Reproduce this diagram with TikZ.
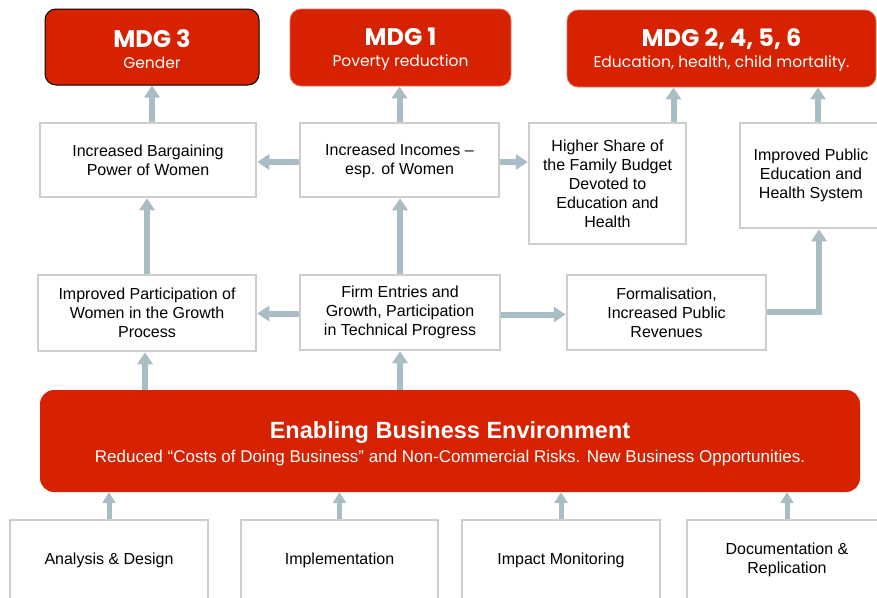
\documentclass[tikz,border=0pt]{standalone}
\usepackage{fontspec}
\setmainfont{Liberation Sans}
\newfontfamily\gothic{Poppins}
\usetikzlibrary{arrows.meta}
\definecolor{mdgred}{RGB}{214,34,0}
\definecolor{mdgline}{RGB}{232,120,100}
\definecolor{arrowc}{RGB}{168,189,197}
\definecolor{boxgray}{RGB}{206,206,206}
\begin{document}
\begin{tikzpicture}[x=1pt,y=-1pt,
  mdg/.style={fill=mdgred, draw=mdgline, line width=0.8pt, rounded corners=11pt, align=center, text=white, inner sep=0pt, font=\gothic\fontsize{15.5}{21}\selectfont},
  wbox/.style={draw=boxgray, line width=2.5pt, fill=white, align=center, inner sep=2pt, font=\fontsize{16}{19}\selectfont},
  arr/.style={draw=arrowc, line width=6pt, -{Triangle[width=15pt,length=12pt]}},
  sarr/.style={draw=arrowc, line width=5pt, -{Triangle[width=13pt,length=11pt]}}
]
\useasboundingbox (0,0) rectangle (877,597);

% MDG boxes
\node[mdg, draw=black, line width=1pt, minimum width=214pt, minimum height=76pt] (mdg3) at (152,47)
  {\rule{0pt}{21.5pt}{\bfseries\fontsize{24}{26}\selectfont MDG 3}\\Gender};
\node[mdg, minimum width=221pt, minimum height=77pt] (mdg1) at (400.5,47.5)
  {\rule{0pt}{21.5pt}{\bfseries\fontsize{24}{26}\selectfont MDG 1}\\Poverty reduction};
\node[mdg, minimum width=309pt, minimum height=77pt] (mdg2) at (721.5,48.5)
  {\rule{0pt}{21.5pt}{\bfseries\fontsize{24}{26}\selectfont MDG 2, 4, 5, 6}\\Education, health, child mortality.};

% Row 2
\node[wbox, minimum width=216pt, minimum height=74pt] (barg) at (148,160) {Increased Bargaining\\Power of Women};
\node[wbox, minimum width=199pt, minimum height=74pt] (inc) at (399.5,160) {\rule{0pt}{14pt}Increased Incomes –\\esp. of Women};
\node[wbox, minimum width=157pt, minimum height=121pt] (hs) at (607.5,183.5) {Higher Share of\\the Family Budget\\Devoted to\\Education and\\Health};
\node[wbox, minimum width=142pt, minimum height=105pt] (pub) at (811,175.5) {Improved Public\\Education and\\Health System};

% Row 3
\node[wbox, minimum width=218pt, minimum height=76pt] (part) at (147,313) {Improved Participation of\\Women in the Growth\\Process};
\node[wbox, minimum width=200pt, minimum height=75pt] (firm) at (400,312.5) {Firm Entries and\\Growth, Participation\\in Technical Progress};
\node[wbox, minimum width=199pt, minimum height=75pt] (form) at (666.5,312.5) {Formalisation,\\Increased Public\\Revenues};

% Enabling environment
\node[fill=mdgred, rounded corners=14pt, minimum width=820pt, minimum height=102pt, align=center, text=white, inner sep=0pt, font=\fontsize{17}{24}\selectfont] (env) at (450,441)
  {\rule{0pt}{22pt}{\bfseries\fontsize{23.5}{26}\selectfont Enabling Business Environment}\\Reduced “Costs of Doing Business” and Non-Commercial Risks. New Business Opportunities.};

% Bottom row
\node[wbox, minimum width=198pt, minimum height=80pt] (ana) at (109,560) {Analysis \& Design};
\node[wbox, minimum width=197pt, minimum height=80pt] (impl) at (339.5,560) {Implementation};
\node[wbox, minimum width=198pt, minimum height=80pt] (imp) at (561,560) {Impact Monitoring};
\node[wbox, minimum width=200pt, minimum height=80pt] (doc) at (787,560) {Documentation \&\\Replication};

% Arrows
\draw[arr] (barg.north -| mdg3.south) -- (mdg3.south);
\draw[arr] (inc.north) -- (inc.north |- mdg1.south);
\draw[arr] ([xshift=66pt]hs.north) -- ([xshift=66pt]hs.north |- mdg2.south);
\draw[arr] ([xshift=7pt]pub.north) -- ([xshift=7pt]pub.north |- mdg2.south);
\draw[arr] ([yshift=-2pt]inc.west) -- ([yshift=-2pt]inc.west -| barg.east);
\draw[arr] ([yshift=-2pt]inc.east) -- ([yshift=-2pt]inc.east -| hs.west);
\draw[arr] (part.north) -- (part.north |- barg.south);
\draw[arr] (firm.north) -- (firm.north |- inc.south);
\draw[arr] ([yshift=-1pt]firm.west) -- ([yshift=-1pt]firm.west -| part.east);
\draw[arr] ([yshift=-2pt]firm.east) -- ([yshift=-2pt]firm.east -| form.west);
\draw[arr] ([yshift=1pt]form.east) -| ([xshift=8pt]pub.south);
\draw[arr] ([xshift=-2pt]part.south |- env.north) -- ([xshift=-2pt]part.south);
\draw[arr] (firm.south |- env.north) -- (firm.south);
\draw[sarr] (ana.north) -- (ana.north |- env.south);
\draw[sarr] (impl.north) -- (impl.north |- env.south);
\draw[sarr] (imp.north) -- (imp.north |- env.south);
\draw[sarr] (doc.north) -- (doc.north |- env.south);
\end{tikzpicture}
\end{document}
